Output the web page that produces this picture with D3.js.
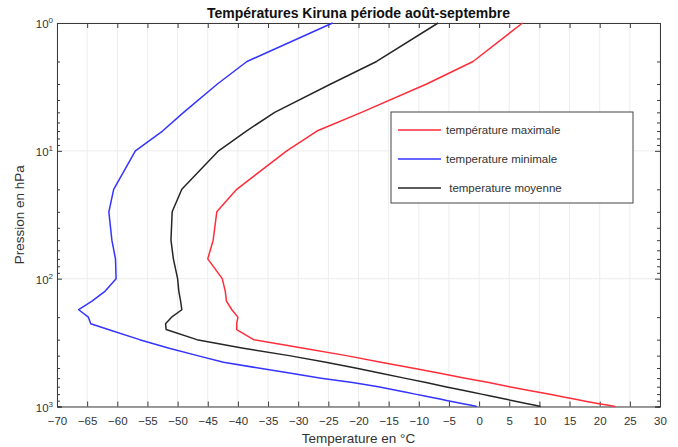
<!DOCTYPE html>
<html>
<head>
<meta charset="utf-8">
<script src="https://cdn.jsdelivr.net/npm/d3@7"></script>
<style>
  html, body { margin: 0; padding: 0; background: #fff; }
  svg { display: block; font-family: "Liberation Sans", Arial, Helvetica, sans-serif; }
</style>
</head>
<body>
<svg id="chart" width="678" height="447"></svg>
<script>
// Pressure levels (hPa) and temperature profiles (°C) for Kiruna, August–September
const pressureLevels = [1, 2, 3, 5, 7, 10, 20, 30, 50, 70, 100, 125, 150, 175, 200, 225, 250, 300, 350, 400,
  450, 500, 550, 600, 650, 700, 750, 775, 800, 825, 850, 875, 900, 925, 950, 975, 1000];

const tempMax = [7.2, -1.0, -8.7, -19.5, -26.9, -31.9, -40.2, -43.5, -44.1, -45.0, -42.6, -42.1, -41.9, -41.0, -40.0, -40.2, -40.2, -37.4, -29.1, -22.0,
  -16.3, -11.1, -6.5, -2.3, 1.6, 5.0, 8.3, 9.9, 11.5, 13.0, 14.4, 15.8, 17.2, 18.5, 19.9, 21.2, 22.6];

const tempMin = [-24.3, -38.5, -43.4, -49.0, -52.5, -57.0, -60.6, -61.4, -60.9, -60.3, -60.2, -62.0, -64.2, -66.4, -64.8, -64.4, -61.5, -56.3, -51.4, -46.7,
  -42.4, -36.6, -31.2, -26.2, -21.0, -16.7, -13.6, -12.1, -10.6, -9.2, -7.8, -6.5, -5.2, -3.9, -2.7, -1.5, -0.4];

const tempMean = [-6.8, -17.0, -24.6, -33.9, -38.6, -43.2, -49.3, -50.9, -51.1, -50.7, -50.0, -49.8, -49.5, -49.3, -51.0, -52.0, -51.9, -46.8, -39.1, -31.5,
  -25.4, -20.5, -16.3, -12.4, -8.8, -5.6, -2.5, -1.1, 0.4, 1.7, 3.1, 4.3, 5.6, 6.8, 8.0, 9.1, 10.2];

const xTicks = [-70, -65, -60, -55, -50, -45, -40, -35, -30, -25, -20, -15, -10, -5, 0, 5, 10, 15, 20, 25, 30];
const yDecades = [1, 10, 100, 1000];
const yExponents = ["0", "1", "2", "3"];

const seriesNames = ["température maximale", "temperature minimale", " temperature moyenne"];
const seriesColors = ["#ff2d3a", "#3434ff", "#262626"];

const chartTitle = "Températures Kiruna période août-septembre";
const xTitle = "Temperature en °C";
const yTitle = "Pression en hPa";

const svg = d3.select("#chart");
const plotLeft = 57, plotRight = 660, plotTop = 23, plotBottom = 406.5;
const axisColor = "#3a3a3a";
const labelColor = "#333";

const x = d3.scaleLinear().domain([-70, 30]).range([plotLeft, plotRight]);
const y = d3.scaleLog().domain([1, 1000]).range([plotTop, plotBottom]);

// grid
const grid = svg.append("g");
grid.selectAll("line.vg").data(xTicks).join("line")
  .attr("class", "vg")
  .attr("x1", d => x(d)).attr("x2", d => x(d))
  .attr("y1", plotTop).attr("y2", plotBottom)
  .attr("stroke", "#ededed").attr("stroke-width", 1);
grid.selectAll("line.hg").data(yDecades).join("line")
  .attr("class", "hg")
  .attr("x1", plotLeft).attr("x2", plotRight)
  .attr("y1", d => y(d)).attr("y2", d => y(d))
  .attr("stroke", "#ededed").attr("stroke-width", 1);

// axes with inward ticks
const minorTicks = y.ticks().filter(d => !yDecades.includes(d));

const gx = svg.append("g").attr("transform", `translate(0,${plotBottom})`)
  .call(d3.axisBottom(x).tickValues(xTicks).tickSize(-5).tickPadding(10).tickFormat(d3.format("d")));
const gxTop = svg.append("g").attr("transform", `translate(0,${plotTop})`)
  .call(d3.axisTop(x).tickValues(xTicks).tickSize(-5).tickFormat(""));
const gy = svg.append("g").attr("transform", `translate(${plotLeft},0)`)
  .call(d3.axisLeft(y).tickValues(yDecades).tickSize(-5).tickFormat(""));
const gyMinor = svg.append("g").attr("transform", `translate(${plotLeft},0)`)
  .call(d3.axisLeft(y).tickValues(minorTicks).tickSize(-3).tickFormat(""));
const gyR = svg.append("g").attr("transform", `translate(${plotRight},0)`)
  .call(d3.axisRight(y).tickValues(yDecades).tickSize(-5).tickFormat(""));
const gyRMinor = svg.append("g").attr("transform", `translate(${plotRight},0)`)
  .call(d3.axisRight(y).tickValues(minorTicks).tickSize(-3).tickFormat(""));

[gx, gxTop, gy, gyMinor, gyR, gyRMinor].forEach(g => {
  g.selectAll("path.domain").attr("stroke", axisColor).attr("stroke-width", 1);
  g.selectAll(".tick line").attr("stroke", axisColor).attr("stroke-width", 1);
});
gx.selectAll(".tick text").attr("font-size", 11.5).attr("fill", labelColor)
  .attr("font-family", "Liberation Sans, Arial, sans-serif");

// y tick labels as powers of ten
const ylab = svg.append("g");
yDecades.forEach((d, i) => {
  const t = ylab.append("text")
    .attr("x", plotLeft - 4).attr("y", y(d) + 5)
    .attr("text-anchor", "end").attr("font-size", 11.5).attr("fill", labelColor);
  t.append("tspan").text("10");
  t.append("tspan").attr("font-size", 8).attr("dy", -5).text(yExponents[i]);
});

// profiles
const line = d3.line().x(d => x(d[0])).y(d => y(d[1]));
const profiles = [tempMax, tempMin, tempMean];
const plot = svg.append("g");
profiles.forEach((temps, i) => {
  plot.append("path")
    .datum(temps.map((t, k) => [t, pressureLevels[k]]))
    .attr("d", line)
    .attr("fill", "none")
    .attr("stroke", seriesColors[i])
    .attr("stroke-width", 1.5)
    .attr("stroke-linejoin", "round");
});

// titles
svg.append("text").attr("x", (plotLeft + plotRight) / 2).attr("y", 18)
  .attr("text-anchor", "middle").attr("font-size", 14).attr("font-weight", "bold")
  .attr("fill", "#111").text(chartTitle);
svg.append("text").attr("x", (plotLeft + plotRight) / 2).attr("y", 443)
  .attr("text-anchor", "middle").attr("font-size", 13.5).attr("fill", labelColor).text(xTitle);
svg.append("text").attr("transform", `translate(24,${(plotTop + plotBottom) / 2}) rotate(-90)`)
  .attr("text-anchor", "middle").attr("font-size", 13.5).attr("fill", labelColor).text(yTitle);

// legend
const lg = svg.append("g");
lg.append("rect").attr("x", 391).attr("y", 112).attr("width", 242).attr("height", 91)
  .attr("fill", "#fff").attr("stroke", "#444").attr("stroke-width", 1);
const rowY = [130, 159, 188];
seriesNames.forEach((name, i) => {
  lg.append("line").attr("x1", 398).attr("x2", 441)
    .attr("y1", rowY[i]).attr("y2", rowY[i])
    .attr("stroke", seriesColors[i]).attr("stroke-width", 1.5);
  lg.append("text").attr("x", 446).attr("y", rowY[i] + 4)
    .attr("font-size", 11.5).attr("fill", "#333")
    .style("white-space", "pre").text(name);
});
</script>
</body>
</html>
